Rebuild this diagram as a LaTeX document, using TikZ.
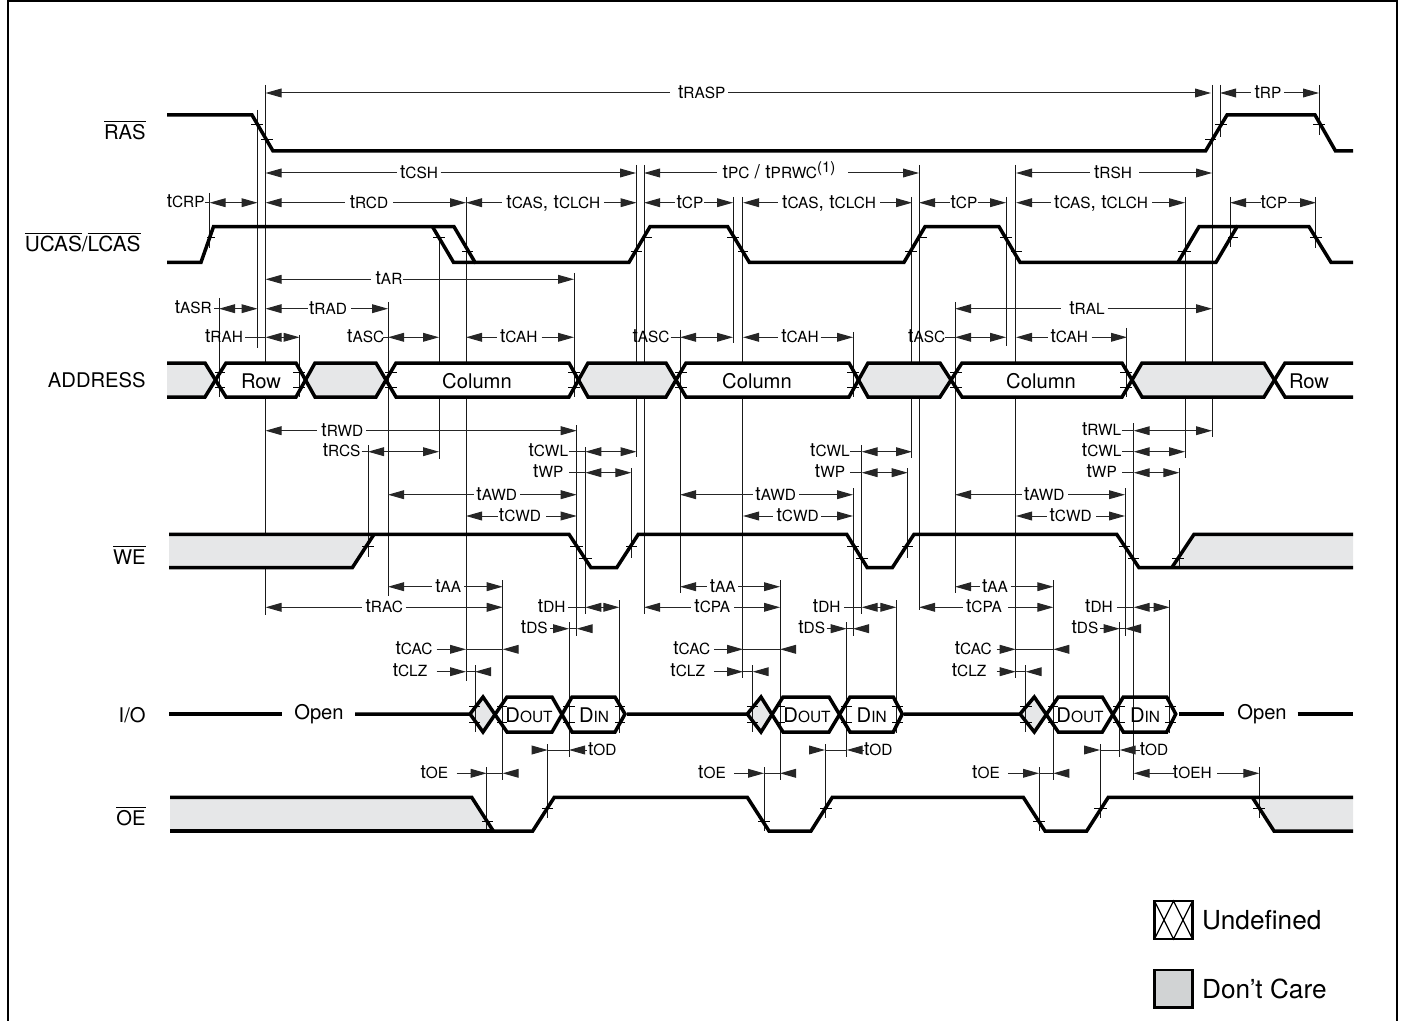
\documentclass[tikz,border=0pt]{standalone}
\usepackage{fontspec}
\setmainfont{TeX Gyre Heros}
\usetikzlibrary{arrows.meta}
\definecolor{dcare}{HTML}{E6E7E8}
\definecolor{dcarel}{HTML}{D1D3D4}
\newcounter{dimn}
\newcommand\tT[1]{{\fontsize{9.6}{10}\selectfont t\fontsize{7.7}{8}\selectfont #1}}
\tikzset{
  dtip/.tip={Triangle[length=8pt,width=4.4pt]},
  sig/.style={line width=1.75pt,line join=miter,black},
  vln/.style={line width=0.5pt,black!90},
  tickln/.style={line width=0.45pt,black},
  dimln/.style={line width=0.5pt,black!85},
  tlabel/.style={inner sep=0pt,anchor=base,font=\fontsize{9.6}{10}\selectfont},
  siglabel/.style={inner sep=0pt,anchor=base east,font=\fontsize{10.1}{12}\selectfont},
  boxlabel/.style={inner sep=0pt,anchor=base,font=\fontsize{10.1}{12}\selectfont},
  leglabel/.style={inner sep=0pt,anchor=base west,font=\fontsize{13.1}{15}\selectfont}
}
% label between two arrows: x1, gap left, label centre, gap right, x2, y, text
\newcommand\tdim[7]{\stepcounter{dimn}\edef\dn{d\arabic{dimn}}%
  \node[tlabel] (\dn) at (#3,{#6+5.5}) {#7};
  \coordinate (\dn a) at (#1,#6); \coordinate (\dn b) at (#2,#6);
  \coordinate (\dn c) at (#4,#6); \coordinate (\dn e) at (#5,#6);
  \draw[dimln,{dtip}-] (\dn a) -- (\dn b);
  \draw[dimln,-{dtip}] (\dn c) -- (\dn e);}
% label left, stub up to x1, double arrow x1..x2
\newcommand\tleft[6]{\stepcounter{dimn}\edef\dn{d\arabic{dimn}}%
  \node[tlabel] (\dn) at (#1,{#5+5}) {#6};
  \coordinate (\dn a) at (#2,#5); \coordinate (\dn b) at (#3,#5); \coordinate (\dn c) at (#4,#5);
  \draw[dimln] (\dn a) -- (\dn b);
  \draw[dimln,{dtip}-{dtip}] (\dn b) -- (\dn c);}
% label left, arrow in to tip1, link, arrow in to tip2 from tail
\newcommand\tout[7]{\stepcounter{dimn}\edef\dn{d\arabic{dimn}}%
  \node[tlabel] (\dn) at (#1,{#6+5}) {#7};
  \coordinate (\dn a) at (#2,#6); \coordinate (\dn b) at (#3,#6);
  \coordinate (\dn c) at (#4,#6); \coordinate (\dn e) at (#5,#6);
  \draw[dimln,-{dtip}] (\dn a) -- (\dn b);
  \draw[dimln] (\dn b) -- (\dn c);
  \draw[dimln,{dtip}-] (\dn c) -- (\dn e);}
\begin{document}
\begin{tikzpicture}[x=0.5pt,y=-0.5pt]
\useasboundingbox (0,0) rectangle (1401,1021);
% frame
\draw[line width=1.3pt,black] (8,1021) -- (8,1) -- (1397,1) -- (1397,1021);

% long reference lines, hidden by the ADDRESS fields and the grey blocks
\foreach \x/\a/\b in {257.5/110/348,265.5/85/615,439.3/237/459,466.2/197/681,636.6/165/457,644/165/614,
  742.7/197/678,911.7/197/458,919/165/610,1015.7/165/678,1185/197/458,1212/85/437,733/197/343,1006/197/346,
  576.7/425/636,585.3/447/614}
  \draw[vln] (\x,\a) -- (\x,\b);

% fills
\fill[dcare] (167,363) -- (205,363) -- (215.5,380) -- (205,397) -- (167,397) -- cycle;
\fill[white] (226,363) -- (296,363) -- (305.5,380) -- (296,397) -- (226,397) -- (215.5,380) -- cycle;
\fill[dcare] (315,363) -- (376,363) -- (386,380) -- (376,397) -- (315,397) -- (305.5,380) -- cycle;
\fill[white] (396,363) -- (569,363) -- (578.5,380) -- (569,397) -- (396,397) -- (386,380) -- cycle;
\fill[dcare] (588,363) -- (666,363) -- (676,380) -- (666,397) -- (588,397) -- (578.5,380) -- cycle;
\fill[white] (686,363) -- (849,363) -- (858.5,380) -- (849,397) -- (686,397) -- (676,380) -- cycle;
\fill[dcare] (868,363) -- (940,363) -- (951,380) -- (940,397) -- (868,397) -- (858.5,380) -- cycle;
\fill[white] (962,363) -- (1122,363) -- (1132,380) -- (1122,397) -- (962,397) -- (951,380) -- cycle;
\fill[dcare] (1142,363) -- (1264,363) -- (1274.5,380) -- (1264,397) -- (1142,397) -- (1132,380) -- cycle;
\fill[white] (1285,363) -- (1353,363) -- (1353,397) -- (1285,397) -- (1274.5,380) -- cycle;
\fill[dcare] (169,534) -- (374,534) -- (352.3,567.7) -- (169,567.7) -- cycle;
\fill[dcare] (1194,534) -- (1353,534) -- (1353,567.7) -- (1171.7,567.7) -- cycle;
\fill[dcare] (170,797) -- (471.7,797) -- (493.3,831) -- (170,831) -- cycle;
\fill[dcare] (1252.3,797) -- (1353,797) -- (1353,831) -- (1274,831) -- cycle;
\fill[dcare] (470,714) -- (483,697) -- (495,714) -- (483,732) -- cycle;
\fill[dcare] (747.3,714) -- (761,697) -- (772.5,714) -- (761,732) -- cycle;
\fill[dcare] (1020,714) -- (1034.3,697) -- (1046.5,714) -- (1034.3,732) -- cycle;

% reference lines that carry ticks on the fields
\foreach \x/\a/\b in {209.7/193/248,1220/85/137,1319/85/135,1230/197/247,1315.7/197/248,
  219/298/397,299.5/335/397,388.3/302/596,574.3/273/397,680/330/593,853.5/332/397,955/302/593,1126.7/328/397,
  368/445/557,631.3/468/558,853/488/636,861.7/445/614,907.7/468/558,1125/488/636,1133.7/423/780,1179.3/468/568,
  475/665/732,502.7/580/780,569/622/757,619.3/600/733,752.7/665/732,780/580/780,846.7/622/757,896.3/600/733,
  1025.7/665/732,1053.3/580/780,1119.7/622/757,1169.7/600/733,
  486.7/767/831,547.7/744/818,764/767/831,825/744/818,1039/767/831,1100/744/818,1259.3/767/818}
  \draw[vln] (\x,\a) -- (\x,\b);

% ticks
\foreach \a/\b/\y in {251/263/124,261/273/139,1205/1216/139,1215/1227/124,1313/1325/124,
  207/215/237,433/445/237,462/473/251,630.5/642/251,642/652/237,727/739/237,738/748/251,905/917/251,917/927/237,
  1000/1012/237,1011/1022/251,1178/1191/251,1228/1238/237,1310/1322/237,
  215/225/372,215/225/387,293/305/372,293/305/387,385/397/372,385/397/387,568/580/372,568/580/387,
  675/687/372,675/687/387,847/859/372,847/859/387,950/962/372,950/962/387,1120/1132/372,1120/1132/387,
  362/374/546,570/583/546,579/592/558,626/637/546,847/859/546,856/868/558,902/913/546,1119/1130/546,1128/1139/558,1172/1184/558,
  469/480/706,469/480/722,497/507/706,497/507/722,563/575/706,563/575/722,615/625/706,615/625/722,
  747/758/706,747/758/722,775/785/706,775/785/722,841/852/706,841/852/722,892/903/706,892/903/722,
  1020/1032/706,1020/1032/722,1048/1058/706,1048/1058/722,1113/1125/706,1113/1125/722,1165/1176/706,1165/1176/722,
  482/493/821,542/553/808,758/770/821,820/832/808,1033/1045/821,1094/1107/808,1253/1265/808}
  \draw[tickln] (\a,\y) -- (\b,\y);

% RAS
\draw[sig] (167,115) -- (252,115) -- (273,151) -- (1205.5,151) -- (1227,115) -- (1315,115) -- (1335.5,151) -- (1353,151);
% UCAS/LCAS
\draw[sig] (167,262.3) -- (201,262.3) -- (213.5,226.7) -- (454,226.7) -- (475,262.3) -- (629,262.3) -- (650,226.7) -- (727.7,226.7)
  -- (749.3,262.3) -- (904,262.3) -- (925,226.7) -- (999,226.7) -- (1020,262.3) -- (1216,262.3) -- (1237,226.7) -- (1309,226.7)
  -- (1331,262.3) -- (1353,262.3);
\draw[sig] (432.5,226.7) -- (453.5,262.3) -- (475,262.3);
\draw[sig] (1178,262.3) -- (1199,226.7) -- (1237,226.7);
% ADDRESS
\draw[sig] (167,363) -- (205,363) -- (226,397) -- (296,397) -- (315,363) -- (376,363) -- (396,397) -- (569,397) -- (588,363) -- (666,363)
  -- (686,397) -- (849,397) -- (868,363) -- (940,363) -- (962,397) -- (1122,397) -- (1142,363) -- (1264,363) -- (1285,397) -- (1353,397);
\draw[sig] (167,397) -- (205,397) -- (226,363) -- (296,363) -- (315,397) -- (376,397) -- (396,363) -- (569,363) -- (588,397) -- (666,397)
  -- (686,363) -- (849,363) -- (868,397) -- (940,397) -- (962,363) -- (1122,363) -- (1142,397) -- (1264,397) -- (1285,363) -- (1353,363);
% WE
\draw[sig] (169,534.3) -- (374,534.3) -- (569,534.3) -- (591,567.7) -- (616.7,567.7) -- (638.3,534.3) -- (846.7,534.3) -- (867.3,567.7)
  -- (892.3,567.7) -- (914,534.3) -- (1116.7,534.3) -- (1139,567.7) -- (1353,567.7);
\draw[sig] (169,567.7) -- (352.3,567.7) -- (374,534.3);
\draw[sig] (1171.7,567.7) -- (1194,534.3) -- (1353,534.3);
% I/O
\draw[sig] (169,714) -- (281.7,714);
\draw[sig] (355,714) -- (470,714) -- (483,697) -- (507,732) -- (552,732) -- (572,697) -- (615,697) -- (625,714) -- (615,732) -- (572,732) -- (552,697) -- (507,697) -- (483,732) -- (470,714);
\draw[sig] (627,714) -- (747.3,714) -- (761,697) -- (783,732) -- (829,732) -- (850,697) -- (893.3,697) -- (902.3,714) -- (893.3,732) -- (850,732) -- (829,697) -- (783,697) -- (761,732) -- (747.3,714);
\draw[sig] (904,714) -- (1020,714) -- (1034.3,697) -- (1058.3,732) -- (1102.3,732) -- (1123.3,697) -- (1166.7,697) -- (1175.7,714) -- (1166.7,732) -- (1123.3,732) -- (1102.3,697) -- (1058.3,697) -- (1034.3,732) -- (1020,714);
\draw[sig] (1179,714) -- (1224.3,714);
\draw[sig] (1297.7,714) -- (1353,714);
% OE
\draw[sig] (170,797.3) -- (471.7,797.3) -- (493.3,831) -- (532.7,831) -- (554.3,797.3) -- (747.3,797.3) -- (769,831) -- (811,831)
  -- (832.3,797.3) -- (1023.3,797.3) -- (1045,831) -- (1086.7,831) -- (1108.3,797.3) -- (1353,797.3);
\draw[sig] (170,831) -- (493.3,831);
\draw[sig] (1252.3,797.3) -- (1274,831) -- (1353,831);

% signal names
\node[siglabel] (nras) at (146,139.5) {$\overline{\mbox{RAS}}$};
\node[siglabel] (ncas) at (141,251.5) {\fontsize{10.4}{12}\selectfont$\overline{\mbox{UCAS}}$/$\overline{\mbox{LCAS}}$};
\node[siglabel] (nadr) at (146,387) {ADDRESS};
\node[siglabel] (nwe) at (146,564) {$\overline{\mbox{WE}}$};
\node[siglabel] (nio) at (146,722) {I/O};
\node[siglabel] (noe) at (146,825) {$\overline{\mbox{OE}}$};

% field labels
\node[boxlabel] (r1) at (261,388) {Row};
\node[boxlabel] (c1) at (477,388) {Column};
\node[boxlabel] (c2) at (757,388) {Column};
\node[boxlabel] (c3) at (1041,388) {Column};
\node[boxlabel] (r2) at (1309,388) {Row};
\node[boxlabel] (o1) at (319,719) {Open};
\node[boxlabel] (o2) at (1262,719) {Open};
\newcommand\dout{D{\fontsize{7.7}{8}\selectfont OUT}}
\newcommand\din{D{\fontsize{7.7}{8}\selectfont IN}}
\node[boxlabel] (do1) at (529,722) {\dout};
\node[boxlabel] (di1) at (594,722) {\din};
\node[boxlabel] (do2) at (807,722) {\dout};
\node[boxlabel] (di2) at (871.7,722) {\din};
\node[boxlabel] (do3) at (1080,722) {\dout};
\node[boxlabel] (di3) at (1145,722) {\din};

% timing dimensions
\tdim{265.5}{670}{701.7}{728}{1211}{93}{\tT{RASP}}
\tdim{1220}{1250.7}{1268}{1284}{1319}{93}{\tT{RP}}
\tdim{265.5}{396.7}{419}{440.7}{636}{173}{\tT{CSH}}
\tdim{644}{716.7}{779}{848}{919}{173}{\tT{PC} / \tT{PRWC}\raisebox{3pt}{\fontsize{7.5}{8}\selectfont(1)}}
\tdim{1016}{1090}{1113}{1139}{1212}{173}{\tT{RSH}}
\tleft{185.7}{205}{209.7}{257.5}{202.7}{\tT{CRP}}
\tdim{265.5}{345}{369}{393.3}{466}{202.7}{\tT{RCD}}
\tdim{466}{502.3}{553.3}{604.3}{636.5}{202.7}{\tT{CAS}, \tT{CLCH}}
\tdim{644}{675}{690}{704}{733}{202.7}{\tT{CP}}
\tdim{743}{778.3}{829}{880}{912}{202.7}{\tT{CAS}, \tT{CLCH}}
\tdim{919}{950}{964}{977.7}{1006}{202.7}{\tT{CP}}
\tdim{1016}{1050.7}{1101}{1152.3}{1185}{202.7}{\tT{CAS}, \tT{CLCH}}
\tdim{1230}{1260.7}{1274}{1287.7}{1316}{202.7}{\tT{CP}}
\tdim{265.5}{371}{389}{402.7}{574}{279.3}{\tT{AR}}
\tleft{193.3}{214}{219}{257.5}{308.7}{\tT{ASR}}
\tdim{265.5}{308.3}{328}{351}{388}{308.7}{\tT{RAD}}
\tdim{955}{1061}{1087}{1107.7}{1212}{308.7}{\tT{RAL}}
\tleft{224}{245}{265.5}{299.5}{337.3}{\tT{RAH}}
\tleft{365.7}{383}{388}{439}{337.3}{\tT{ASC}}
\tdim{466}{496.7}{518.7}{541.7}{574}{337.3}{\tT{CAH}}
\tleft{651}{670.7}{680}{733}{337.3}{\tT{ASC}}
\tdim{743}{777.7}{800}{820.7}{853}{337.3}{\tT{CAH}}
\tleft{926.7}{945}{955}{1006}{337.3}{\tT{ASC}}
\tdim{1016}{1048.3}{1069.3}{1091.7}{1127}{337.3}{\tT{CAH}}
\tdim{265.5}{316.7}{342.3}{366}{576.7}{430.7}{\tT{RWD}}
\tleft{1101.7}{1121.7}{1133.7}{1212}{430.7}{\tT{RWL}}
\tleft{341.7}{361.7}{368}{439}{451.7}{\tT{RCS}}
\tleft{548.3}{569}{585.3}{636.5}{451.7}{\tT{CWL}}
\tleft{830}{850}{861.7}{912}{451.7}{\tT{CWL}}
\tleft{1101.7}{1122.3}{1133.7}{1185}{451.7}{\tT{CWL}}
\tleft{548.3}{569}{585.3}{631.3}{472.7}{\tT{WP}}
\tleft{830}{850}{861.7}{907.7}{472.7}{\tT{WP}}
\tleft{1101.7}{1122}{1133.7}{1179.3}{472.7}{\tT{WP}}
\tdim{388}{474}{496.7}{520}{576.7}{494.7}{\tT{AWD}}
\tdim{680}{752.7}{775.7}{799}{853}{494.7}{\tT{AWD}}
\tdim{955}{1021.7}{1044.3}{1068.3}{1125}{494.7}{\tT{AWD}}
\tdim{466}{498.3}{520}{546}{576.7}{516}{\tT{CWD}}
\tdim{743}{773.3}{797.7}{821}{853}{516}{\tT{CWD}}
\tdim{1016}{1046.7}{1070.7}{1096}{1125}{516}{\tT{CWD}}
\tdim{388}{432.3}{448.3}{464}{502.7}{586.7}{\tT{AA}}
\tdim{680}{707.3}{722.7}{738.3}{780}{586.7}{\tT{AA}}
\tdim{955}{980}{995}{1010.7}{1053.3}{586.7}{\tT{AA}}
\tdim{265.5}{361.7}{384.3}{405.7}{502.7}{607.3}{\tT{RAC}}
\tleft{551.7}{568.3}{585.3}{619.3}{607.3}{\tT{DH}}
\tdim{644}{691}{712.3}{734.3}{780}{607.3}{\tT{CPA}}
\tleft{826.7}{844}{861.7}{896.3}{607.3}{\tT{DH}}
\tdim{919}{962.7}{984}{1008.3}{1053.3}{607.3}{\tT{CPA}}
\tleft{1099}{1117.3}{1133.7}{1169.7}{607.3}{\tT{DH}}
\tout{534.3}{550}{569}{576.7}{590}{628.7}{\tT{DS}}
\tout{811.7}{826.7}{846.7}{853}{867.3}{628.7}{\tT{DS}}
\tout{1085}{1100}{1119.7}{1125}{1139}{628.7}{\tT{DS}}
\tout{414}{436.7}{466}{502.7}{516.7}{649.3}{\tT{CAC}}
\tout{691.7}{714.3}{743}{780}{794.3}{649.3}{\tT{CAC}}
\tout{973.3}{996.7}{1015.7}{1053.3}{1067.7}{649.3}{\tT{CAC}}
\tout{410}{436.7}{466}{475}{489.3}{671.7}{\tT{CLZ}}
\tout{687.7}{714.3}{743}{752.7}{766.7}{671.7}{\tT{CLZ}}
\tout{969}{996.7}{1015.7}{1025.7}{1040}{671.7}{\tT{CLZ}}
\tout{602.3}{534}{547.7}{569}{587}{750}{\tT{OD}}
\tout{878.3}{811.7}{825}{846.7}{864}{750}{\tT{OD}}
\tout{1154}{1087.3}{1100}{1119.7}{1140}{750}{\tT{OD}}
\tout{434.3}{456.7}{486.7}{502.7}{516.7}{773.3}{\tT{OE}}
\tout{712}{734}{764}{780}{793.3}{773.3}{\tT{OE}}
\tout{986}{1008.3}{1039}{1053.3}{1067.7}{773.3}{\tT{OE}}
\tdim{1133.7}{1174.3}{1192.3}{1217.3}{1259.3}{773.3}{\tT{OEH}}

% legend
\draw[line width=1.35pt,black,fill=white] (1154.5,901) rectangle (1192.5,939);
\draw[line width=0.6pt,black] (1154.5,901) -- (1173.5,939) -- (1192.5,901) (1154.5,939) -- (1173.5,901) -- (1192.5,939);
\node[leglabel] (lu) at (1201.7,929) {Undefined};
\draw[line width=1.35pt,black,fill=dcarel] (1154.5,970) rectangle (1192.5,1007.5);
\node[leglabel] (ld) at (1201.7,998) {Don’t Care};
\end{tikzpicture}
\end{document}
